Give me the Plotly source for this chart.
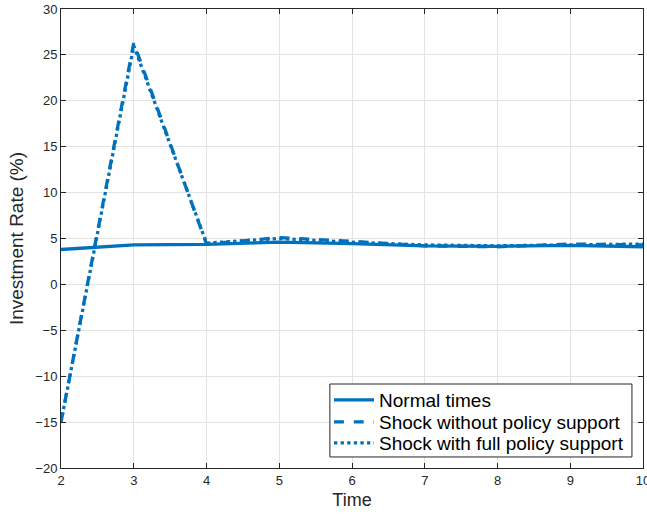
import plotly.graph_objects as go

time = [2, 3, 4, 5, 6, 7, 8, 9, 10]
normal_times = [3.8, 4.3, 4.35, 4.6, 4.45, 4.2, 4.15, 4.25, 4.1]
shock_no_policy = [-15.0, 26.3, 4.4, 5.1, 4.7, 4.2, 4.1, 4.4, 4.3]
shock_full_policy = [-15.0, 26.0, 4.5, 5.0, 4.6, 4.3, 4.2, 4.3, 4.4]

x_ticks = [2, 3, 4, 5, 6, 7, 8, 9, 10]
y_ticks = [-20, -15, -10, -5, 0, 5, 10, 15, 20, 25, 30]

blue = "#0072BD"
axis_col = "#262626"
font_family = "Liberation Sans, Arial, Helvetica, sans-serif"

fig = go.Figure()
fig.add_trace(go.Scatter(x=time, y=normal_times, mode="lines", name="Normal times",
                         line=dict(color=blue, width=3.3, dash="solid"), legend="legend"))
fig.add_trace(go.Scatter(x=time, y=shock_no_policy, mode="lines", name="Shock without policy support",
                         line=dict(color=blue, width=3.3, dash="dash"), legend="legend2"))
fig.add_trace(go.Scatter(x=time, y=shock_full_policy, mode="lines", name="Shock with full policy support",
                         line=dict(color=blue, width=3.3, dash="dot"), legend="legend3"))

axis_common = dict(
    showline=True, linecolor=axis_col, linewidth=1, mirror="ticks",
    ticks="inside", ticklen=5, tickcolor=axis_col,
    showgrid=True, gridcolor="#e3e3e3", gridwidth=1,
    zeroline=False, ticklabeloverflow="allow",
    tickfont=dict(family=font_family, size=13, color=axis_col),
)

fig.update_xaxes(range=[2, 10], tickvals=x_ticks,
                 title=dict(text="Time", font=dict(family=font_family, size=18, color=axis_col), standoff=6),
                 **axis_common)
fig.update_yaxes(range=[-20, 30], tickvals=y_ticks,
                 title=dict(text="Investment Rate (%)", font=dict(family=font_family, size=19, color=axis_col), standoff=6),
                 **axis_common)

# legend box (MATLAB-style single box holding three entries)
fig.add_shape(type="rect", xref="paper", yref="paper", x0=0.462, x1=0.981, y0=0.024, y1=0.183,
              fillcolor="white", line=dict(color="#262626", width=1), layer="above")

leg_common = dict(xanchor="left", yanchor="middle", bgcolor="rgba(0,0,0,0)", borderwidth=0,
                  font=dict(family=font_family, size=19, color="#000000"), itemwidth=40)

fig.update_layout(
    width=647, height=514,
    margin=dict(l=61, r=4, t=9, b=46, autoexpand=False),
    paper_bgcolor="white", plot_bgcolor="white",
    font=dict(family=font_family, color=axis_col),
    legend=dict(x=0.4605, y=0.148, **leg_common),
    legend2=dict(x=0.4605, y=0.100, **leg_common),
    legend3=dict(x=0.4605, y=0.0545, **leg_common),
    showlegend=True,
)

fig.write_html("out.html", config={"displayModeBar": False},
               post_script="document.body.style.margin='0px';document.body.style.padding='0px';")
